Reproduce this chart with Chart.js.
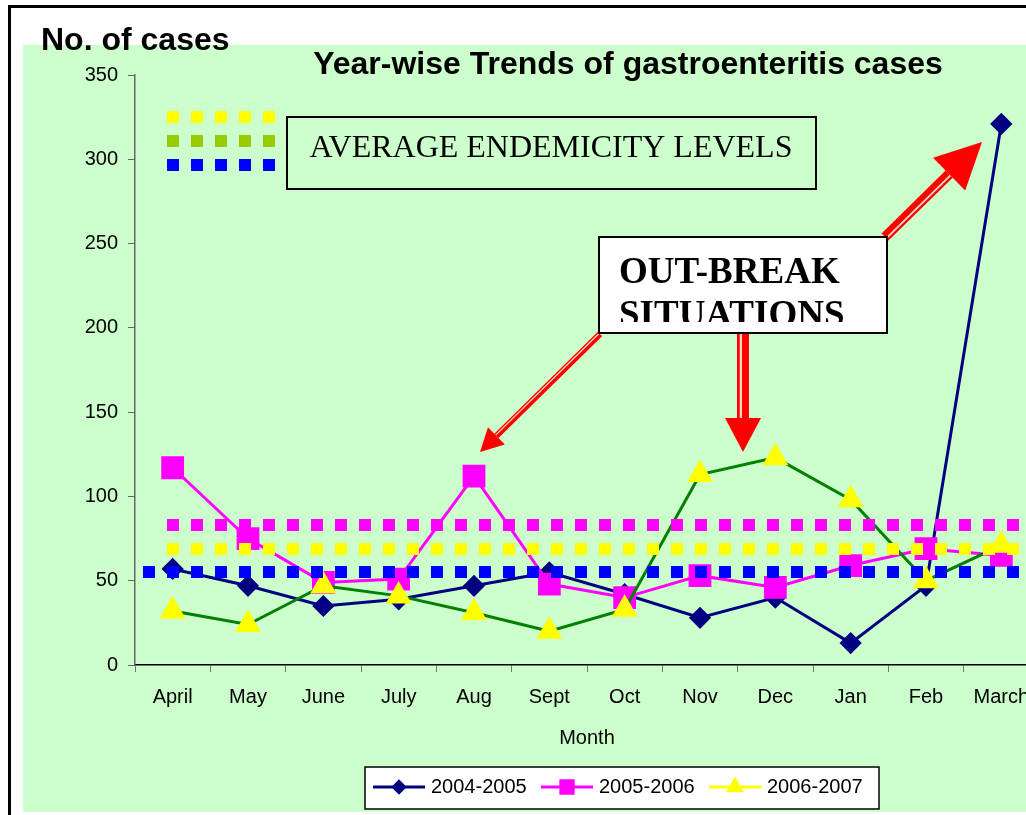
<!DOCTYPE html>
<html>
<head>
<meta charset="utf-8">
<script src="https://cdn.jsdelivr.net/npm/chart.js@4"></script>
<style>
    body {
        margin: 0;
        overflow: hidden;
        background: #fff;
    }
    #wrap {
        position: absolute;
        left: 0;
        top: 0;
    }
</style>
</head>
<body>
<div id="wrap"><canvas id="trendChart" width="1056" height="815"></canvas></div>
<script>
// chart data
const months = ['April', 'May', 'June', 'July', 'Aug', 'Sept', 'Oct', 'Nov', 'Dec', 'Jan', 'Feb', 'March'];
const cases0405 = [57, 47, 35, 39, 47, 55, 42, 28, 40, 13, 47, 321];
const cases0506 = [117, 75, 49, 51, 112, 48, 40, 53, 46, 59, 69, 65];
const cases0607 = [32, 24, 47, 41, 31, 20, 33, 113, 123, 98, 50, 71];
const seriesNames = ['2004-2005', '2005-2006', '2006-2007'];
const avgLevels = [83, 69, 55];          // average endemicity levels
const avgColors = ['#FF00FF', '#FFFF00', '#0000FF'];
const yMin = 0, yMax = 350, yStep = 50;

const SANS = '"Liberation Sans", Arial, sans-serif';
const SERIF = '"Liberation Serif", "Times New Roman", serif';

function drawArrow(ctx, x1, y1, x2, y2, headLen, headHalf, shaftW) {
    const ang = Math.atan2(y2 - y1, x2 - x1);
    const bx = x2 - Math.cos(ang) * headLen;
    const by = y2 - Math.sin(ang) * headLen;
    const nx = -Math.sin(ang), ny = Math.cos(ang);
    ctx.save();
    ctx.lineCap = 'butt';
    ctx.strokeStyle = '#FF0000';
    ctx.lineWidth = shaftW;
    ctx.beginPath();
    ctx.moveTo(x1, y1);
    ctx.lineTo(bx, by);
    ctx.stroke();
    // pale stripe inside the shaft
    const off = shaftW * 0.18;
    ctx.strokeStyle = '#F2E2C4';
    ctx.lineWidth = Math.max(1.2, shaftW * 0.18);
    ctx.beginPath();
    ctx.moveTo(x1 + nx * off, y1 + ny * off);
    ctx.lineTo(bx + nx * off, by + ny * off);
    ctx.stroke();
    ctx.fillStyle = '#FF0000';
    ctx.beginPath();
    ctx.moveTo(x2, y2);
    ctx.lineTo(bx + nx * headHalf, by + ny * headHalf);
    ctx.lineTo(bx - nx * headHalf, by - ny * headHalf);
    ctx.closePath();
    ctx.fill();
    ctx.restore();
}

function dottedRow(ctx, y, xStart, xEnd, color) {
    ctx.fillStyle = color;
    for (let x = xStart; x < xEnd; x += 24) {
        ctx.fillRect(x, y - 6, 12, 12);
    }
}

const backdrop = {
    id: 'backdrop',
    beforeDraw(chart) {
        const ctx = chart.ctx;
        ctx.save();
        ctx.fillStyle = '#fff';
        ctx.fillRect(0, 0, chart.width, chart.height);
        ctx.fillStyle = '#CCFFCC';
        ctx.fillRect(23, 45, chart.width - 23, 767);
        ctx.fillStyle = '#000';
        ctx.fillRect(8, 5, chart.width, 3);
        ctx.fillRect(8, 5, 3, chart.height);
        ctx.restore();
    }
};

const avgLines = {
    id: 'avgLines',
    afterDatasetsDraw(chart) {
        const ctx = chart.ctx;
        const y = chart.scales.y;
        const area = chart.chartArea;
        ctx.save();
        avgLevels.forEach((v, i) => {
            const start = i === 2 ? area.left + 8 : area.left + 32;
            dottedRow(ctx, Math.round(y.getPixelForValue(v)), start, area.right, avgColors[i]);
        });
        ctx.restore();
    }
};

const annotations = {
    id: 'annotations',
    afterDraw(chart) {
        const ctx = chart.ctx;
        ctx.save();

        // headings
        ctx.fillStyle = '#000';
        ctx.textBaseline = 'middle';
        ctx.textAlign = 'left';
        ctx.font = 'bold 32px ' + SANS;
        ctx.fillText('No. of cases', 41, 41);
        ctx.textAlign = 'center';
        ctx.font = 'bold 32px ' + SANS;
        ctx.fillText('Year-wise Trends of gastroenteritis cases', 628, 65);
        ctx.font = '20px ' + SANS;
        ctx.fillText('Month', 587, 738);

        // key squares top-left
        dottedRow(ctx, 117, 167, 280, '#FFFF00');
        dottedRow(ctx, 141, 167, 280, '#99CC00');
        dottedRow(ctx, 165, 167, 280, '#0000FF');

        // average box
        ctx.strokeStyle = '#000';
        ctx.lineWidth = 2;
        ctx.strokeRect(287, 117, 529, 72);
        ctx.fillStyle = '#000';
        ctx.font = '32px ' + SERIF;
        ctx.fillText('AVERAGE ENDEMICITY LEVELS', 551, 149);

        // arrows
        drawArrow(ctx, 600, 334, 480, 452, 23, 12, 6);
        drawArrow(ctx, 885, 237, 982, 142, 46, 23, 10);
        drawArrow(ctx, 743, 333, 743, 452, 34, 18, 12);

        // out-break box
        ctx.fillStyle = '#fff';
        ctx.fillRect(599, 237, 288, 96);
        ctx.save();
        ctx.beginPath();
        ctx.rect(600, 238, 286, 84);
        ctx.clip();
        ctx.fillStyle = '#000';
        ctx.textAlign = 'left';
        ctx.textBaseline = 'alphabetic';
        ctx.font = 'bold 37px ' + SERIF;
        ctx.fillText('OUT-BREAK', 619, 283);
        ctx.fillText('SITUATIONS', 619, 326);
        ctx.restore();
        ctx.strokeStyle = '#000';
        ctx.lineWidth = 2;
        ctx.strokeRect(599, 237, 288, 96);

        // legend
        ctx.fillStyle = '#fff';
        ctx.fillRect(365, 767, 514, 42);
        ctx.strokeStyle = '#000';
        ctx.lineWidth = 1.5;
        ctx.strokeRect(365, 767, 514, 42);
        const lx = [373, 541, 709];
        const lineCols = ['#000080', '#FF00FF', '#FFFF00'];
        chart.data.datasets.forEach((ds, i) => {
            const x = lx[i], y = 787;
            ctx.strokeStyle = lineCols[i];
            ctx.lineWidth = 3;
            ctx.beginPath();
            ctx.moveTo(x, y);
            ctx.lineTo(x + 52, y);
            ctx.stroke();
            ctx.fillStyle = ds.pointBackgroundColor;
            ctx.strokeStyle = ds.pointBackgroundColor;
            Chart.helpers.drawPoint(ctx, {
                pointStyle: ds.pointStyle,
                rotation: 0,
                borderWidth: 1,
                radius: ds.pointRadius * 0.62
            }, x + 26, y);
            ctx.fillStyle = '#000';
            ctx.textAlign = 'left';
            ctx.textBaseline = 'middle';
            ctx.font = '20px ' + SANS;
            ctx.fillText(ds.label, x + 58, y);
        });
        ctx.restore();
    }
};

new Chart(document.getElementById('trendChart').getContext('2d'), {
    type: 'line',
    data: {
        labels: months,
        datasets: [{
            label: seriesNames[0],
            data: cases0405,
            borderColor: '#000080',
            backgroundColor: '#000080',
            pointBackgroundColor: '#000080',
            pointBorderColor: '#000080',
            pointStyle: 'rectRot',
            pointRadius: 9,
            borderWidth: 3,
            order: 2
        }, {
            label: seriesNames[1],
            data: cases0506,
            borderColor: '#FF00FF',
            backgroundColor: '#FF00FF',
            pointBackgroundColor: '#FF00FF',
            pointBorderColor: '#FF00FF',
            pointStyle: 'rect',
            pointRadius: 14,
            borderWidth: 3,
            order: 1
        }, {
            label: seriesNames[2],
            data: cases0607,
            borderColor: '#008000',
            backgroundColor: '#FFFF00',
            pointBackgroundColor: '#FFFF00',
            pointBorderColor: '#FFFF00',
            pointStyle: 'triangle',
            pointRadius: 12,
            borderWidth: 3,
            order: 0
        }]
    },
    options: {
        responsive: false,
        animation: false,
        devicePixelRatio: 1,
        layout: {
            padding: { top: 75, left: 0, right: 6, bottom: 0 }
        },
        elements: {
            line: { tension: 0 },
            point: { borderWidth: 1, hoverRadius: 12 }
        },
        plugins: {
            legend: { display: false },
            title: { display: false },
            tooltip: { enabled: false }
        },
        scales: {
            x: {
                offset: true,
                afterFit: (s) => {
                    s.height = 150;
                    s.paddingLeft = 0;
                    s.paddingRight = 0;
                },
                border: { display: true, color: '#000', width: 1.5 },
                grid: {
                    offset: true,
                    drawOnChartArea: false,
                    drawTicks: true,
                    tickLength: 7,
                    tickColor: '#777'
                },
                ticks: {
                    color: '#000',
                    font: { family: SANS, size: 20 },
                    padding: 13,
                    maxRotation: 0,
                    autoSkip: false
                }
            },
            y: {
                min: yMin,
                max: yMax,
                afterFit: (s) => { s.width = 135; },
                border: { display: true, color: '#666', width: 1.5 },
                grid: {
                    drawOnChartArea: false,
                    drawTicks: true,
                    tickLength: 7,
                    tickColor: '#666'
                },
                ticks: {
                    stepSize: yStep,
                    color: '#000',
                    font: { family: SANS, size: 20 },
                    padding: 10
                }
            }
        }
    },
    plugins: [backdrop, avgLines, annotations]
});
</script>
</body>
</html>
